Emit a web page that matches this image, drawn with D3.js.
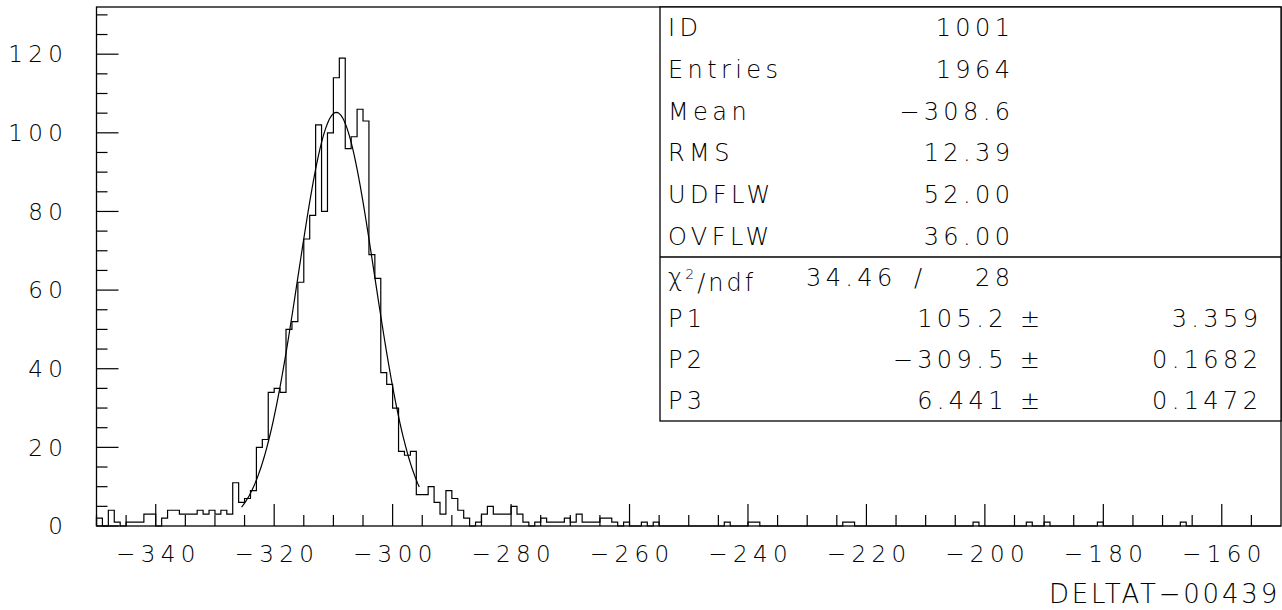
<!DOCTYPE html>
<html>
<head>
<meta charset="utf-8">
<script src="https://cdn.jsdelivr.net/npm/d3@7/dist/d3.min.js"></script>
<style>
  html, body { margin: 0; padding: 0; background: #fff; }
  svg { display: block; }
  text { font-family: "DejaVu Sans", sans-serif; font-weight: 200; fill: #000; }
</style>
</head>
<body>
<svg id="chart" width="1282" height="610"></svg>
<script>
// ---- data ----
const binStart = -350;          // lower edge of first bin
const binWidth = 1;
const counts = [
  2,0,4,1,0,1,1,1,3,3, 0,2,4,4,3,3,3,4,3,4,
  3,4,3,11,6,7,9,20,22,34, 35,34,50,52,62,73,79,102,80,100,
  114,119,96,99,106,103,69,63,39,36, 30,19,18,19,8,8,10,6,3,9,
  7,4,2,0,1,3,5,3,3,3, 5,3,1,0,1,2,1,1,1,2,
  1,3,1,1,1,2,2,1,0,1, 0,0,1,0,1,0,0,0,0,0,
  0,0,0,0,0,0,1,0,0,0, 1,1,0,0,0,0,0,0,0,0,
  0,0,0,0,0,0,1,1,0,0, 0,0,0,0,0,0,0,0,0,0,
  0,0,0,0,0,0,0,0,1,0, 0,0,0,0,0,0,0,1,0,0,
  1,0,0,0,0,0,0,0,0,1, 0,0,0,0,0,0,0,0,0,0,
  0,0,0,1,0,0,0,0,0,0, 0,0,0,0,0,0,0,0,0,0
];
const xTicks = [-340,-320,-300,-280,-260,-240,-220,-200,-180,-160];
const yTicks = [0,20,40,60,80,100,120];
const xTitle = "DELTAT\u221200439";
const fitP = [105.2, -309.5, 6.441];
const fitRange = [-325.5, -295.5];
const statsTop = [
  ["ID", "1001"], ["Entries", "1964"], ["Mean", "\u2212308.6"],
  ["RMS", "12.39"], ["UDFLW", "52.00"], ["OVFLW", "36.00"]
];
const chi2 = ["34.46", "28"];
const params = [["P1", "105.2", "3.359"], ["P2", "\u2212309.5", "0.1682"], ["P3", "6.441", "0.1472"]];

// ---- layout ----
const svg = d3.select("#chart");
const L = 96.5, R = 1281, T = 7, B = 526;
const x = d3.scaleLinear().domain([-350, -150]).range([L, R]);
const y = d3.scaleLinear().domain([0, 132]).range([B, T]);

svg.append("rect").attr("width", 1282).attr("height", 610).attr("fill", "#fff");

// frame
svg.append("rect").attr("x", L).attr("y", T).attr("width", R - L).attr("height", B - T)
  .attr("fill", "none").attr("stroke", "#000").attr("stroke-width", 1.3);

// histogram
const pts = [[binStart, 0]];
counts.forEach((c, i) => {
  const a = binStart + i * binWidth;
  pts.push([a, c], [a + binWidth, c]);
});
pts.push([binStart + counts.length * binWidth, 0]);
const line = d3.line().x(d => x(d[0])).y(d => y(d[1]));
svg.append("path").attr("d", line(pts)).attr("fill", "none")
  .attr("stroke", "#000").attr("stroke-width", 1.2);

// fit curve
const gx = d3.range(fitRange[0], fitRange[1] + 0.001, 0.25);
const gauss = v => fitP[0] * Math.exp(-0.5 * Math.pow((v - fitP[1]) / fitP[2], 2));
svg.append("path").attr("d", line(gx.map(v => [v, gauss(v)]))).attr("fill", "none")
  .attr("stroke", "#000").attr("stroke-width", 1.2);

// y axis ticks (inside, pointing right)
const yMinor = d3.range(0, 132.01, 5);
yMinor.forEach(v => {
  const major = v % 20 === 0;
  svg.append("line").attr("x1", L).attr("x2", L + (major ? 22 : 11))
    .attr("y1", y(v)).attr("y2", y(v)).attr("stroke", "#000").attr("stroke-width", 1.2);
});
yTicks.forEach(v => {
  svg.append("text").attr("x", 63).attr("y", y(v)).attr("dy", "0.36em")
    .attr("text-anchor", "end").attr("font-size", 23).attr("letter-spacing", 5.4)
    .attr("dx", 5.4).text(d3.format("d")(v));
});

// x axis ticks (inside, pointing up)
const xMinor = d3.range(-350, -150.01, 5);
xMinor.forEach(v => {
  const major = v % 20 === 0;
  svg.append("line").attr("x1", x(v)).attr("x2", x(v))
    .attr("y1", B).attr("y2", B - (major ? 22 : 11)).attr("stroke", "#000").attr("stroke-width", 1.2);
});
xTicks.forEach(v => {
  svg.append("text").attr("x", x(v) + 2.7).attr("y", 562)
    .attr("text-anchor", "middle").attr("font-size", 23).attr("letter-spacing", 5.4)
    .text(String(v).replace("-", "\u2212"));
});
svg.append("text").attr("x", 1280).attr("y", 603).attr("text-anchor", "end")
  .attr("font-size", 26).attr("letter-spacing", 2.8).text(xTitle);

// stats box
const bx = 660, bTop = 7, bSep = 257, bBot = 421;
svg.append("rect").attr("x", bx).attr("y", bTop).attr("width", R - bx).attr("height", bBot - bTop)
  .attr("fill", "#fff").attr("stroke", "#000").attr("stroke-width", 1.3);
svg.append("line").attr("x1", bx).attr("x2", R).attr("y1", bSep).attr("y2", bSep)
  .attr("stroke", "#000").attr("stroke-width", 1.3);
const rowH1 = (bSep - bTop) / statsTop.length;
const fs = 24, ls = 4.4;
statsTop.forEach((r, i) => {
  const cy = bTop + rowH1 * (i + 0.5);
  svg.append("text").attr("x", 668).attr("y", cy).attr("dy", "0.36em")
    .attr("font-size", fs).attr("letter-spacing", ls).text(r[0]);
  svg.append("text").attr("x", 1010 + ls).attr("y", cy).attr("dy", "0.36em").attr("text-anchor", "end")
    .attr("font-size", fs).attr("letter-spacing", ls).text(r[1]);
});
const rowH2 = (bBot - bSep) / 4;
const cy0 = bSep + rowH2 * 0.5;
const chiT = svg.append("text").attr("x", 668).attr("y", cy0).attr("dy", "0.36em")
  .attr("font-size", fs).attr("letter-spacing", 3);
chiT.append("tspan").text("\u03c7");
chiT.append("tspan").attr("dy", "-0.5em").attr("font-size", 14).text("2");
chiT.append("tspan").attr("dy", "0.5em").text("/ndf");
svg.append("text").attr("x", 806).attr("y", cy0).attr("dy", "0.36em")
  .attr("font-size", fs).attr("letter-spacing", ls).text(chi2[0]);
svg.append("text").attr("x", 918).attr("y", cy0).attr("dy", "0.36em").attr("text-anchor", "middle")
  .attr("font-size", fs).text("/");
svg.append("text").attr("x", 1010 + ls).attr("y", cy0).attr("dy", "0.36em").attr("text-anchor", "end")
  .attr("font-size", fs).attr("letter-spacing", ls).text(chi2[1]);
params.forEach((p, i) => {
  const cy = bSep + rowH2 * (i + 1.5);
  svg.append("text").attr("x", 668).attr("y", cy).attr("dy", "0.36em")
    .attr("font-size", fs).attr("letter-spacing", ls).text(p[0]);
  svg.append("text").attr("x", 1040 + ls).attr("y", cy).attr("dy", "0.36em").attr("text-anchor", "end")
    .attr("font-size", fs).attr("letter-spacing", ls).text(p[1] + " \u00b1");
  svg.append("text").attr("x", 1258 + ls).attr("y", cy).attr("dy", "0.36em").attr("text-anchor", "end")
    .attr("font-size", fs).attr("letter-spacing", ls).text(p[2]);
});
</script>
</body>
</html>
